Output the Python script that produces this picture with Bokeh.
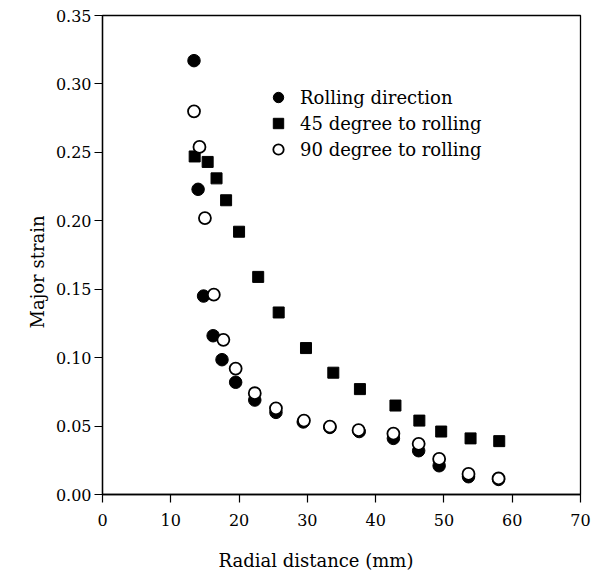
from bokeh.plotting import figure
from bokeh.models import (Range1d, FixedTicker, NumeralTickFormatter, Legend,
                          LegendItem, Title, LinearAxis)
from bokeh.embed import file_html
from bokeh.resources import INLINE

# Rolling direction (filled circles)
rd_x = [13.4, 14.0, 14.8, 16.2, 17.5, 19.5, 22.3, 25.4, 29.4, 33.3, 37.6, 42.6, 46.3, 49.3, 53.6, 58.0]
rd_y = [0.317, 0.223, 0.145, 0.116, 0.0985, 0.082, 0.069, 0.060, 0.053, 0.049, 0.046, 0.041, 0.032, 0.021, 0.013, 0.011]

# 45 degree to rolling (filled squares)
d45_x = [13.5, 15.4, 16.7, 18.1, 20.0, 22.8, 25.8, 29.8, 33.8, 37.7, 42.9, 46.4, 49.6, 53.9, 58.1]
d45_y = [0.247, 0.243, 0.231, 0.215, 0.192, 0.159, 0.133, 0.107, 0.089, 0.077, 0.065, 0.054, 0.046, 0.041, 0.039]

# 90 degree to rolling (open circles)
d90_x = [13.4, 14.2, 15.0, 16.3, 17.7, 19.5, 22.3, 25.4, 29.5, 33.3, 37.5, 42.6, 46.3, 49.3, 53.6, 58.0]
d90_y = [0.280, 0.254, 0.202, 0.146, 0.113, 0.092, 0.074, 0.063, 0.054, 0.0496, 0.047, 0.0445, 0.037, 0.026, 0.015, 0.0117]

x_ticks = [0, 10, 20, 30, 40, 50, 60, 70]
y_ticks = [0.00, 0.05, 0.10, 0.15, 0.20, 0.25, 0.30, 0.35]

FONT = "DejaVu Serif"

p = figure(width=598, height=576, output_backend="svg", toolbar_location=None,
           x_range=Range1d(0, 70), y_range=Range1d(0, 0.35),
           min_border_left=102, min_border_right=18, min_border_top=15,
           min_border_bottom=82)
p.xgrid.visible = False
p.ygrid.visible = False
p.outline_line_color = "black"
p.outline_line_width = 1.3
p.background_fill_color = "white"
p.border_fill_color = "white"

r45 = p.scatter(d45_x, d45_y, marker="square", size=11, color="black")
rrd = p.scatter(rd_x, rd_y, marker="circle", size=12.5, color="black")
r90 = p.scatter(d90_x, d90_y, marker="circle", size=12, fill_color="white",
                line_color="black", line_width=1.8)

for ax in (p.xaxis[0], p.yaxis[0]):
    ax.major_tick_out = 8
    ax.major_tick_in = 0
    ax.minor_tick_out = 0
    ax.minor_tick_in = 0
    ax.axis_line_color = "black"
    ax.axis_line_width = 1.3
    ax.major_tick_line_width = 1.2
    ax.major_label_text_font = FONT
    ax.major_label_text_font_size = "16px"
    ax.major_label_text_color = "black"

p.xaxis.ticker = FixedTicker(ticks=x_ticks)
p.yaxis.ticker = FixedTicker(ticks=y_ticks)
p.yaxis.formatter = NumeralTickFormatter(format="0.00")
p.xaxis.major_label_standoff = 11
p.yaxis.major_label_standoff = 3

# invisible spacer between the tick labels and the x title
spacer = LinearAxis(ticker=FixedTicker(ticks=[35]), axis_line_color=None,
                    major_tick_line_color=None, minor_tick_line_color=None,
                    major_tick_out=18, major_tick_in=0, minor_tick_out=0,
                    minor_tick_in=0, major_label_standoff=0,
                    major_label_overrides={35: ""})
p.add_layout(spacer, "below")

p.add_layout(Title(text="Radial distance (mm)", align="left", offset=116,
                   standoff=2, text_font=FONT, text_font_size="18px",
                   text_font_style="normal", text_color="black"), "below")
p.add_layout(Title(text="Major strain", align="left", offset=166,
                   standoff=10, text_font=FONT, text_font_size="18px",
                   text_font_style="normal", text_color="black"), "left")

legend = Legend(items=[
    LegendItem(label="Rolling direction", renderers=[rrd]),
    LegendItem(label="45 degree to rolling", renderers=[r45]),
    LegendItem(label="90 degree to rolling", renderers=[r90]),
], location=(160, 332))
legend.border_line_color = None
legend.background_fill_alpha = 0
legend.padding = 0
legend.margin = 0
legend.glyph_width = 32
legend.glyph_height = 26
legend.label_height = 26
legend.spacing = 0
legend.label_standoff = 6
legend.label_text_font = FONT
legend.label_text_font_size = "18px"
legend.label_text_color = "black"
p.add_layout(legend)

open("out.html", "w").write(file_html(p, INLINE))
